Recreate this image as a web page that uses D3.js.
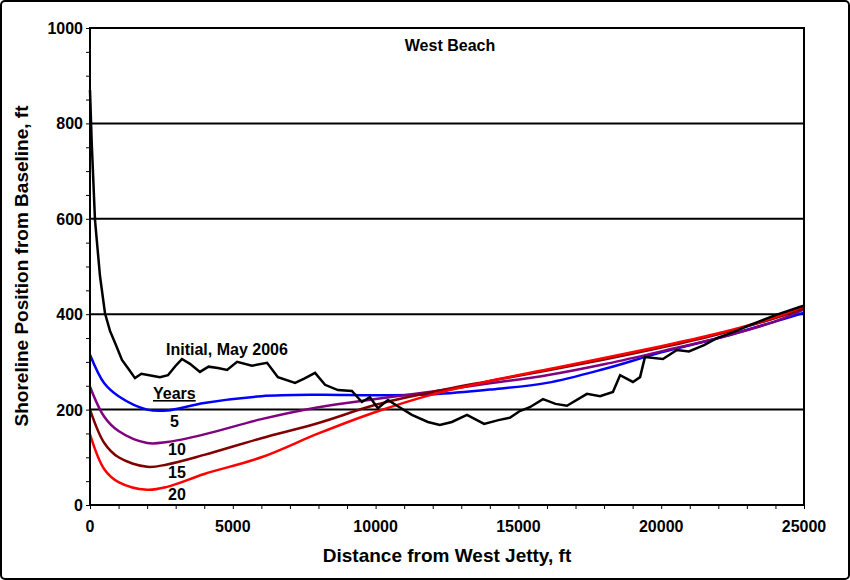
<!DOCTYPE html>
<html><head><meta charset="utf-8">
<script src="https://cdn.jsdelivr.net/npm/d3@7"></script>
<style>body{margin:0;background:#fff}text{font-family:Arial,"Liberation Sans",sans-serif;font-weight:bold}</style>
</head><body><svg id="c" width="850" height="580"></svg>
<script>
const initialX=[0,60,175,350,525,700,875,1120,1350,1575,1800,2170,2450,2730,3000,3220,3500,3850,4150,4480,4800,5150,5670,6200,6580,7180,7500,7880,8230,8680,9170,9520,9800,10080,10430,10780,11270,11830,12250,12670,13200,13800,14300,14700,15050,15400,15860,16300,16700,17400,17860,18310,18560,19010,19260,19430,20060,20550,20970,21500,21950,22500,23100,24000,24850,25000];
const initialY=[870,760,597,480,402,365,340,304,285,266,275,271,268,272,292,306,296,279,290,287,283,300,292,298,268,256,265,277,252,241,239,216,226,203,220,207,189,174,168,174,189,170,178,183,197,205,222,212,208,233,228,237,272,258,268,310,306,325,322,335,350,362,377,398,415,418];
const curveX=[0,500,1000,2000,2700,4000,6000,8000,10000,12000,14000,16000,18000,20000,22000,24000,25000];
const yr5=[315,255,228,200,198,214,228,231,230,232,242,256,285,320,350,385,403];
const yr10=[248,185,155,130,132,148,180,205,222,238,255,272,295,322,350,385,410];
const yr15=[200,130,100,80,85,105,140,172,210,237,260,282,305,330,358,392,413];
const yr20=[148,75,48,32,38,65,100,150,195,232,260,284,308,333,360,394,417];
const yTicks=[0,200,400,600,800,1000];
const xTicks=[0,5000,10000,15000,20000,25000];
const svg=d3.select("#c");
svg.append("rect").attr("x",1).attr("y",1).attr("width",848).attr("height",578).attr("fill","#fff").attr("stroke","#000").attr("stroke-width",2).attr("rx",4);
const L=90,R=804,T=28,B=505;
const x=d3.scaleLinear().domain([0,25000]).range([L,R]);
const y=d3.scaleLinear().domain([0,1000]).range([B,T]);
const g=svg.append("g");
[200,400,600,800].forEach(v=>g.append("line").attr("x1",L).attr("x2",R).attr("y1",y(v)).attr("y2",y(v)).attr("stroke","#000").attr("stroke-width",2));
g.append("g").attr("transform",`translate(${L},0)`).call(d3.axisLeft(y).tickValues(d3.range(0,1001,50)).tickSize(4).tickFormat(""));
g.append("g").attr("transform",`translate(0,${B})`).call(d3.axisBottom(x).tickValues(d3.range(0,25001,1000)).tickSize(4).tickFormat(""));
g.selectAll(".domain").remove();
g.selectAll(".tick line").attr("stroke","#000").attr("stroke-width",1);
yTicks.forEach(v=>g.append("text").attr("x",L-7).attr("y",y(v)+6).attr("text-anchor","end").attr("font-size",16).text(v));
xTicks.forEach(v=>g.append("text").attr("x",x(v)).attr("y",B+27).attr("text-anchor","middle").attr("font-size",16).text(v));
const lc=d3.line().x((d,i)=>x(curveX[i])).y(d=>y(d)).curve(d3.curveCatmullRom.alpha(0.5));
[[yr5,"#0000ff"],[yr10,"#800080"],[yr15,"#800000"],[yr20,"#ff0000"]].forEach(([s,c])=>g.append("path").attr("d",lc(s)).attr("fill","none").attr("stroke",c).attr("stroke-width",2.5));
const li=d3.line().x((d,i)=>x(initialX[i])).y(d=>y(d));
g.append("path").attr("d",li(initialY)).attr("fill","none").attr("stroke","#000").attr("stroke-width",2.5);
g.append("rect").attr("x",L).attr("y",T).attr("width",R-L).attr("height",B-T).attr("fill","none").attr("stroke","#000").attr("stroke-width",2);
g.append("text").attr("x",450).attr("y",51).attr("text-anchor","middle").attr("font-size",16).text("West Beach");
g.append("text").attr("x",166).attr("y",355).attr("font-size",16).text("Initial, May 2006");
g.append("text").attr("x",153).attr("y",399).attr("font-size",16).attr("text-decoration","underline").text("Years");
[["5",170,427],["10",168,455],["15",168,478],["20",168,500]].forEach(([t,a,b])=>g.append("text").attr("x",a).attr("y",b).attr("font-size",16).text(t));
svg.append("text").attr("x",447).attr("y",562).attr("text-anchor","middle").attr("font-size",19).text("Distance from West Jetty, ft");
svg.append("text").attr("transform","translate(28,266) rotate(-90)").attr("text-anchor","middle").attr("font-size",19).text("Shoreline Position from Baseline, ft");
</script></body></html>
